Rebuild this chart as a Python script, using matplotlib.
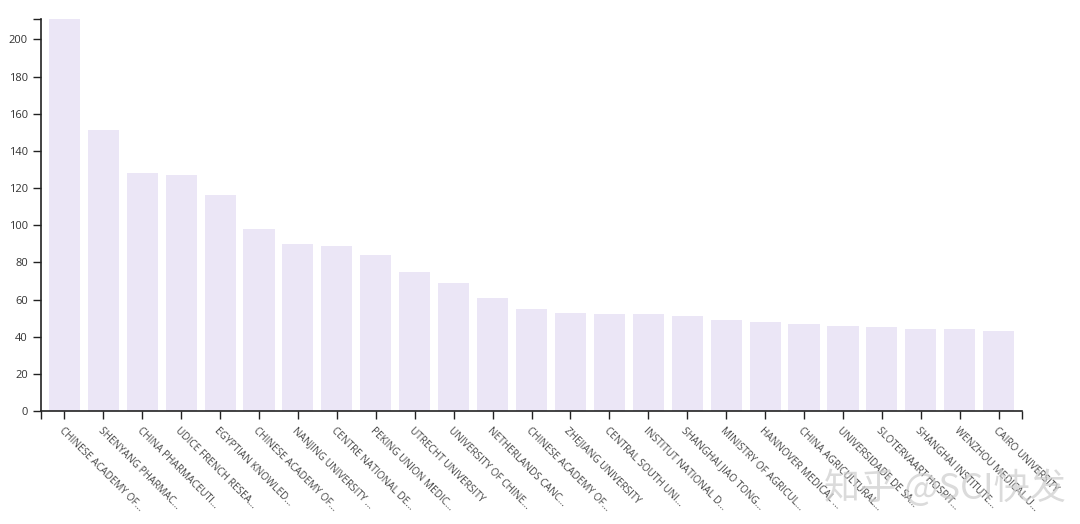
import matplotlib.pyplot as plt
import numpy as np

plt.rcParams['font.family'] = ['Open Sans', 'DejaVu Sans']

institutions = [
    "CHINESE ACADEMY OF…", "SHENYANG PHARMAC…", "CHINA PHARMACEUTI…",
    "UDICE FRENCH RESEA…", "EGYPTIAN KNOWLED…", "CHINESE ACADEMY OF…",
    "NANJING UNIVERSITY …", "CENTRE NATIONAL DE…", "PEKING UNION MEDIC…",
    "UTRECHT UNIVERSITY", "UNIVERSITY OF CHINE…", "NETHERLANDS CANC…",
    "CHINESE ACADEMY OF…", "ZHEJIANG UNIVERSITY", "CENTRAL SOUTH UNI…",
    "INSTITUT NATIONAL D…", "SHANGHAI JIAO TONG…", "MINISTRY OF AGRICUL…",
    "HANNOVER MEDICAL …", "CHINA AGRICULTURAL…", "UNIVERSIDADE DE SA…",
    "SLOTERVAART HOSPIT…", "SHANGHAI INSTITUTE…", "WENZHOU MEDICAL U…",
    "CAIRO UNIVERSITY",
]
counts = [211, 151, 128, 127, 116, 98, 90, 89, 84, 75, 69, 61, 55, 53, 52,
          52, 51, 49, 48, 47, 46, 45, 44, 44, 43]
y_ticks = list(range(0, 201, 20))

fig = plt.figure(figsize=(10.8, 5.24), dpi=100)
ax = fig.add_axes([41 / 1080, 113 / 524, 981 / 1080, 392 / 524])

# band scale with 0.2 inner/outer padding
x = np.arange(len(institutions))
ax.bar(x, counts, width=0.8, color="#ebe6f6")

x_lo, x_hi = -0.6, len(institutions) - 0.4
ax.set_xlim(x_lo, x_hi)
ax.set_ylim(0, max(counts))

for side in ("top", "right"):
    ax.spines[side].set_visible(False)
for side in ("left", "bottom"):
    ax.spines[side].set_color("#222222")
    ax.spines[side].set_linewidth(1.2)

ax.set_yticks(y_ticks)
ax.set_yticklabels([str(v) for v in y_ticks], fontsize=8, color="#333333")
ax.set_xticks(x)
ax.set_xticklabels(institutions, rotation=-45, ha="left", va="top",
                   rotation_mode="anchor", fontsize=7.2, color="#444444")
ax.tick_params(axis="both", direction="out", length=6, width=1, color="#222222")
ax.tick_params(axis="x", pad=4)

# outer ticks at axis ends
ax.set_xticks([x_lo, x_hi], minor=True)
ax.set_yticks([max(counts)], minor=True)
ax.tick_params(which="minor", direction="out", length=6, width=1, color="#222222")

# watermark
fig.text(0.875, 0.069, "知乎 @SCI快发", fontsize=26, color="#cccccc", alpha=0.7,
         ha="center", va="center", family=["Noto Sans CJK SC", "DejaVu Sans"])

fig.savefig("out.png", dpi=100, facecolor="white")
